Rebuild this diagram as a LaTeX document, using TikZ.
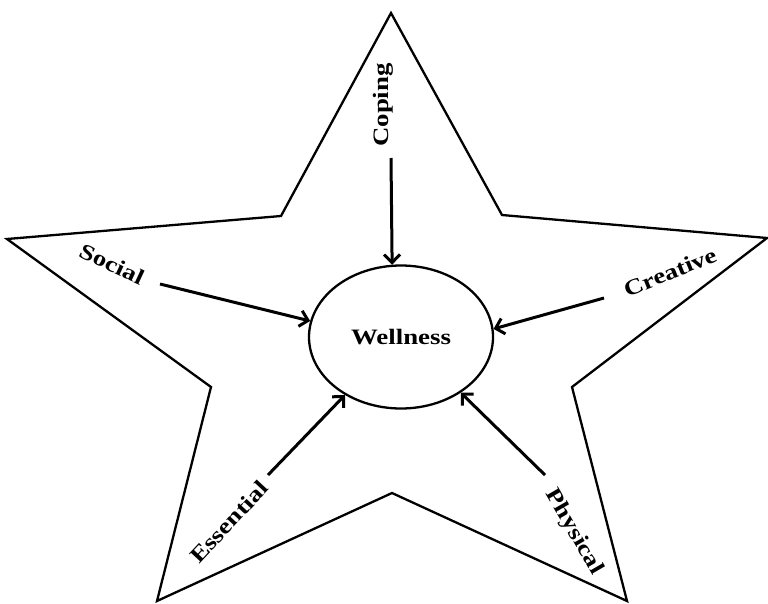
\documentclass[tikz,border=0pt]{standalone}
\usepackage{fontspec}
\setmainfont{Liberation Serif}[FakeStretch=1.22]
\usetikzlibrary{arrows.meta,shapes.geometric}
\tikzset{
  lbl/.style={font=\fontsize{22}{24}\selectfont\bfseries, inner sep=0pt},
  arr/.style={line width=3pt, -{Straight Barb[length=8pt,width=16pt]}},
  starline/.style={line width=2.3pt, line join=miter}
}
\begin{document}
\begin{tikzpicture}[x=1pt,y=-1pt]
\useasboundingbox (0,0) rectangle (768,603);
\draw[starline] (391,13) -- (502,215) -- (767,238) -- (572,387) -- (627,601)
  -- (392,493) -- (157,601) -- (211,387) -- (7,239) -- (281,216) -- cycle;
\node[ellipse, draw, line width=2.3pt, minimum width=184pt, minimum height=143pt, lbl] (W) at (401,337) {Wellness};
\node[lbl, rotate=90] (coping) at (383,105) {Coping};
\node[lbl, rotate=-25] (social) at (112,264) {Social};
\node[lbl, rotate=22] (creative) at (670,272) {Creative};
\node[lbl, rotate=47] (essential) at (229,522) {Essential};
\node[lbl, rotate=-60] (physical) at (574,532) {Physical};
\coordinate (c1) at (391,158);
\coordinate (c2) at (160,284);
\coordinate (c3) at (604,298);
\coordinate (c4) at (268,475);
\coordinate (c5) at (545,475);
\draw[arr] (c1) -- (W.97);
\draw[arr] (c2) -- (W.170);
\draw[arr] (c3) -- (W.5);
\draw[arr] (c4) -- (W.-134);
\draw[arr] (c5) -- (W.-43);
\end{tikzpicture}
\end{document}
